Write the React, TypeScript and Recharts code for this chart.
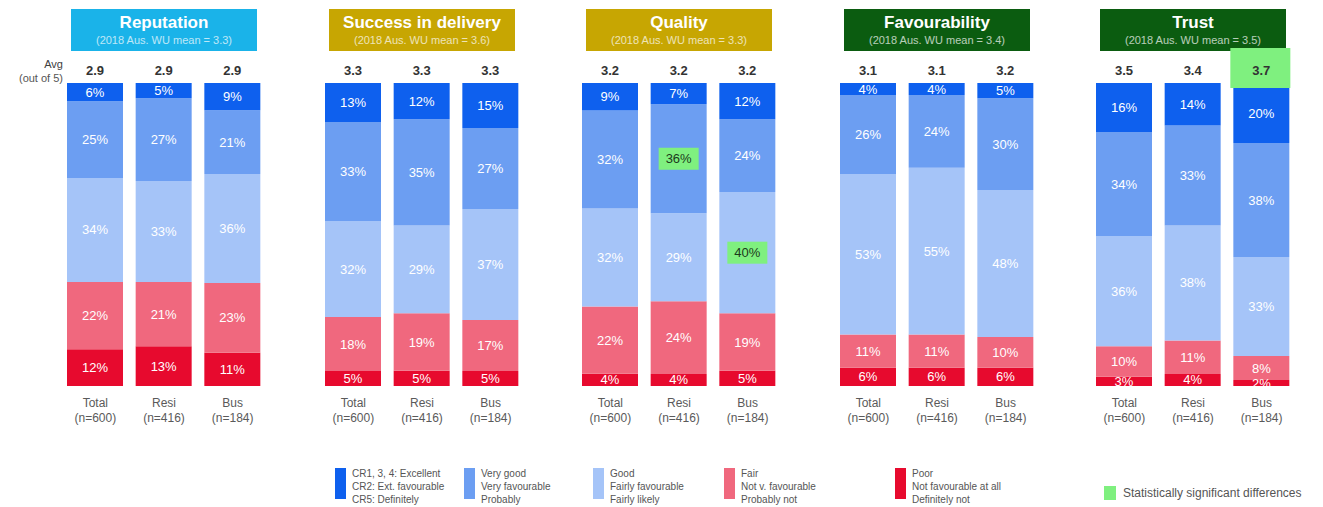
import React from "react";
import { BarChart, Bar, XAxis, YAxis, LabelList } from "recharts";

const panelTitles = ["Reputation", "Success in delivery", "Quality", "Favourability", "Trust"];
const benchmarkMeans = ["3.3", "3.6", "3.3", "3.4", "3.5"];
const categories = ["Total", "Resi", "Bus"];
const sampleSizes = ["(n=600)", "(n=416)", "(n=184)"];

// one row per panel, columns = Total / Resi / Bus
const excellent = [[6, 5, 9], [13, 12, 15], [9, 7, 12], [4, 4, 5], [16, 14, 20]];
const veryGood = [[25, 27, 21], [33, 35, 27], [32, 36, 24], [26, 24, 30], [34, 33, 38]];
const good = [[34, 33, 36], [32, 29, 37], [32, 29, 40], [53, 55, 48], [36, 38, 33]];
const fair = [[22, 21, 23], [18, 19, 17], [22, 24, 19], [11, 11, 10], [10, 11, 8]];
const poor = [[12, 13, 11], [5, 5, 5], [4, 4, 5], [6, 6, 6], [3, 4, 2]];
const averages = [[2.9, 2.9, 2.9], [3.3, 3.3, 3.3], [3.2, 3.2, 3.2], [3.1, 3.1, 3.2], [3.5, 3.4, 3.7]];

const significant = [
  { panel: 2, index: 1, key: "veryGood" },
  { panel: 2, index: 2, key: "good" },
  { panel: 4, index: 2, key: "avg" },
];

const legendItems = [
  { key: "excellent", lines: ["CR1, 3, 4: Excellent", "CR2: Ext. favourable", "CR5: Definitely"] },
  { key: "veryGood", lines: ["Very good", "Very favourable", "Probably"] },
  { key: "good", lines: ["Good", "Fairly favourable", "Fairly likely"] },
  { key: "fair", lines: ["Fair", "Not v. favourable", "Probably not"] },
  { key: "poor", lines: ["Poor", "Not favourable at all", "Definitely not"] },
];

const FONT = '"Liberation Sans", Arial, sans-serif';
const COLORS: Record<string, string> = {
  excellent: "#0e60ee",
  veryGood: "#6c9ef2",
  good: "#a5c4f8",
  fair: "#f0687e",
  poor: "#e70a2e",
};
const SIG = "#7ff07f";
const titleFills = ["#1ab3e9", "#c7a602", "#c7a602", "#0b5c10", "#0b5c10"];
const panelLefts = [61, 319, 576, 834, 1090];
const legendLefts = [335, 464, 593, 724, 895];

const isSig = (panel: number, index: number, key: string) =>
  significant.some((s) => s.panel === panel && s.index === index && s.key === key);

const segLabel = (panel: number, key: string) => (props: any) => {
  const { x, y, width, height, value, index } = props;
  if (value == null) return null;
  const cx = x + width / 2;
  const cy = y + height / 2;
  const hl = isSig(panel, index, key);
  return (
    <g>
      {hl && <rect x={cx - 20} y={cy - 11} width={40} height={22} fill={SIG} />}
      <text
        x={cx}
        y={cy}
        textAnchor="middle"
        dominantBaseline="central"
        fill={hl ? "#1c3a1c" : "#ffffff"}
        fontSize={13}
        fontFamily={FONT}
      >
        {value}%
      </text>
    </g>
  );
};

const avgLabel = (panel: number) => (props: any) => {
  const { x, y, width, value, index } = props;
  const cx = x + width / 2;
  const hl = isSig(panel, index, "avg");
  return (
    <g>
      {hl && <rect x={cx - 31} y={y - 35} width={60} height={40} fill={SIG} />}
      <text
        x={cx}
        y={y - 13}
        textAnchor="middle"
        dominantBaseline="central"
        fill="#333"
        fontSize={13}
        fontWeight="bold"
        fontFamily={FONT}
      >
        {Number(value).toFixed(1)}
      </text>
    </g>
  );
};

const CategoryTick = (props: any) => {
  const { x, y, payload } = props;
  const i = categories.indexOf(payload.value);
  return (
    <text x={x} y={y} textAnchor="middle" fill="#5a5a5a" fontSize={12} fontFamily={FONT}>
      <tspan x={x} dy={13}>{payload.value}</tspan>
      <tspan x={x} dy={15}>{sampleSizes[i]}</tspan>
    </text>
  );
};

function Panel({ p }: { p: number }) {
  const data = categories.map((name, i) => ({
    name,
    excellent: excellent[p][i],
    veryGood: veryGood[p][i],
    good: good[p][i],
    fair: fair[p][i],
    poor: poor[p][i],
    avg: averages[p][i],
  }));
  const keys = ["poor", "fair", "good", "veryGood", "excellent"];
  return (
    <div style={{ position: "absolute", left: panelLefts[p], top: 0 }}>
      <div
        style={{
          position: "absolute",
          left: 10,
          top: 9,
          width: 186,
          height: 42,
          background: titleFills[p],
          color: "#fff",
          textAlign: "center",
          fontFamily: FONT,
        }}
      >
        <div style={{ fontSize: 17, fontWeight: "bold", marginTop: 4, lineHeight: "20px" }}>
          {panelTitles[p]}
        </div>
        <div style={{ fontSize: 11, lineHeight: "14px", opacity: 0.7 }}>
          (2018 Aus. WU mean = {benchmarkMeans[p]})
        </div>
      </div>
      <div style={{ position: "absolute", left: 0, top: 45 }}>
        <BarChart
          width={206}
          height={385}
          data={data}
          stackOffset="expand"
          margin={{ top: 38, right: 0, bottom: 0, left: 0 }}
        >
          <XAxis
            dataKey="name"
            interval={0}
            axisLine={false}
            tickLine={false}
            height={44}
            tick={<CategoryTick />}
          />
          <YAxis hide domain={[0, 1]} />
          {keys.map((k) => (
            <Bar key={k} dataKey={k} stackId="s" fill={COLORS[k]} barSize={56} isAnimationActive={false}>
              <LabelList dataKey={k} content={segLabel(p, k)} />
              {k === "excellent" && <LabelList dataKey="avg" content={avgLabel(p)} />}
            </Bar>
          ))}
        </BarChart>
      </div>
    </div>
  );
}

export default function App() {
  return (
    <div
      style={{
        position: "absolute",
        left: 0,
        top: 0,
        width: 1323,
        height: 507,
        background: "#fff",
        fontFamily: FONT,
        overflow: "hidden",
      }}
    >
      <div style={{ position: "absolute", left: 0, width: 63, top: 57, textAlign: "right", fontSize: 11, lineHeight: "14px" }}>
        <div style={{ color: "#404040" }}>Avg</div>
        <div style={{ color: "#555" }}>(out of 5)</div>
      </div>
      {panelTitles.map((_, p) => (
        <Panel key={p} p={p} />
      ))}
      {legendItems.map((item, i) => (
        <div key={item.key} style={{ position: "absolute", left: legendLefts[i], top: 467 }}>
          <div style={{ position: "absolute", left: 0, top: 1, width: 11, height: 31, background: COLORS[item.key] }} />
          <div style={{ position: "absolute", left: 17, top: 0, fontSize: 10, lineHeight: "13px", color: "#555", whiteSpace: "nowrap" }}>
            {item.lines.map((l) => (
              <div key={l}>{l}</div>
            ))}
          </div>
        </div>
      ))}
      <div style={{ position: "absolute", left: 1104, top: 486 }}>
        <div style={{ position: "absolute", left: 0, top: 0, width: 12, height: 14, background: SIG }} />
        <div style={{ position: "absolute", left: 19, top: 0, fontSize: 12, lineHeight: "14px", color: "#555", whiteSpace: "nowrap" }}>
          Statistically significant differences
        </div>
      </div>
    </div>
  );
}
